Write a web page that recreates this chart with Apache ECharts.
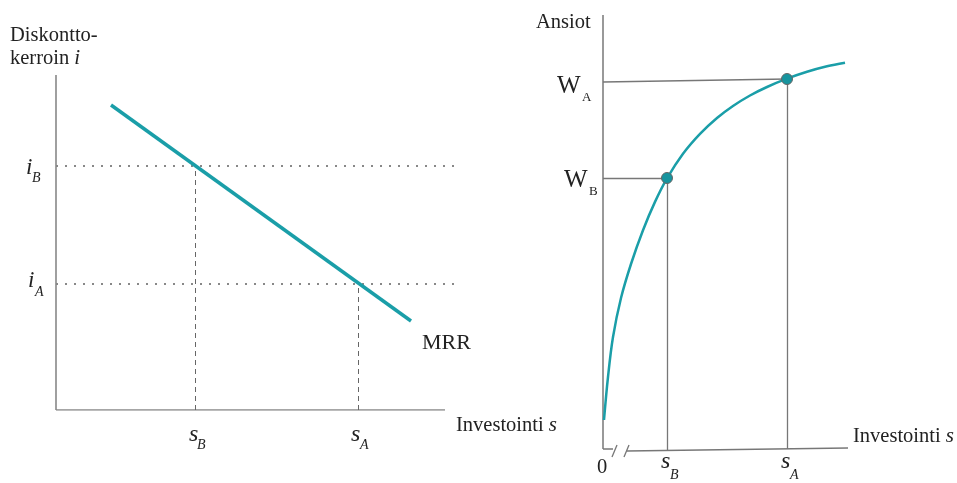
<!DOCTYPE html>
<html><head><meta charset="utf-8">
<script src="https://cdn.jsdelivr.net/npm/echarts@6/dist/echarts.min.js"></script>
<style>html,body{margin:0;padding:0;background:#fff}#c{width:957px;height:483px}</style>
</head><body><div id="c"></div>
<script>
// ---------- Left panel: discount rate vs investment (MRR) ----------
const leftAxisSegments = [[[0,0],[389,0]], [[0,0],[0,335]]];
const mrrLine = [[55,305],[355,89]];
const discountLevels = [244,126];      // i_B, i_A
const investLevels = [139,302];        // s_B, s_A
const dottedEnd = 399;

// ---------- Right panel: earnings curve ----------
const rightAxisSegments = [[[0,0],[0,434]], [[0,0],[10,0]], [[24,-2],[245,1]]];
const breakMarks = [[[9,-8],[14,4]], [[21,-8],[26,4]]];
const curveX = [1,5,10,18,28,40,52,64,80,97,114,130,147,164,184,204,224,242];
const curveY = [29,72,112,151,185,218.8,247.1,270.6,295.2,315.1,331,343,353.5,362,370.3,377.2,382.7,386.2];
const earningsPoints = [[64,271],[184,370]];   // (s_B, W_B), (s_A, W_A)
const wLevelsLeftY = [271,367];
const sBottomY = [-1,0];

const SERIF = "'Liberation Serif','DejaVu Serif',serif";
const TXT = '#222';
const TEAL = '#1a9ea8';

function seg(a){ return a.map(c=>({coords:c})); }

const earningsCurve = curveX.map((x,k)=>[x,curveY[k]]);
const leftDotted = discountLevels.map(y=>[[0,y],[dottedEnd,y]]);
const leftDashed = investLevels.map((x,k)=>[[x,0],[x,discountLevels[k]]]);
const rightHoriz = earningsPoints.map((p,k)=>[[0,wLevelsLeftY[k]],p]);
const rightVert = earningsPoints.map((p,k)=>[[p[0],sBottomY[k]],p]);

function t(x,y,text,size,italic){
  return {type:'text',left:x,top:y,style:{text:text,fontFamily:SERIF,fontSize:size,fontStyle:italic?'italic':'normal',fill:TXT}};
}
const richDef = {
  r:{fontFamily:SERIF,fontSize:20.5,color:TXT},
  it:{fontFamily:SERIF,fontSize:21,fontStyle:'italic',color:TXT}
};
function rt(x,y,text,lh){
  return {type:'text',left:x,top:y,style:{text:text,rich:richDef,fontFamily:SERIF,fontSize:20.5,fill:TXT,lineHeight:lh||23}};
}

const chart = echarts.init(document.getElementById('c'),null,{renderer:'canvas'});
chart.setOption({
  animation:false,
  backgroundColor:'#fff',
  grid:[
    {left:56,top:40,width:420,height:370},
    {left:603,top:15,width:250,height:449}
  ],
  xAxis:[
    {gridIndex:0,type:'value',min:0,max:420,show:false},
    {gridIndex:1,type:'value',min:0,max:250,show:false}
  ],
  yAxis:[
    {gridIndex:0,type:'value',min:0,max:370,show:false},
    {gridIndex:1,type:'value',min:-15,max:434,show:false}
  ],
  series:[
    {type:'lines',coordinateSystem:'cartesian2d',xAxisIndex:0,yAxisIndex:0,data:seg(leftAxisSegments),lineStyle:{color:'#888',width:1.6,opacity:1}},
    {type:'lines',coordinateSystem:'cartesian2d',xAxisIndex:0,yAxisIndex:0,data:seg(leftDotted),lineStyle:{color:'#888',width:2,type:[2,7],opacity:1}},
    {type:'lines',coordinateSystem:'cartesian2d',xAxisIndex:0,yAxisIndex:0,data:seg(leftDashed),lineStyle:{color:'#666',width:1,type:[5,4],opacity:1}},
    {type:'line',xAxisIndex:0,yAxisIndex:0,data:mrrLine,showSymbol:false,lineStyle:{color:TEAL,width:3.5}},
    {type:'lines',coordinateSystem:'cartesian2d',xAxisIndex:1,yAxisIndex:1,data:seg(rightAxisSegments),lineStyle:{color:'#777',width:1.5,opacity:1}},
    {type:'lines',coordinateSystem:'cartesian2d',xAxisIndex:1,yAxisIndex:1,data:seg(breakMarks),lineStyle:{color:'#777',width:1.3,opacity:1}},
    {type:'lines',coordinateSystem:'cartesian2d',xAxisIndex:1,yAxisIndex:1,data:seg(rightHoriz.concat(rightVert)),lineStyle:{color:'#777',width:1.3,opacity:1}},
    {type:'line',xAxisIndex:1,yAxisIndex:1,data:earningsCurve,smooth:0.35,showSymbol:false,lineStyle:{color:TEAL,width:2.5}},
    {type:'scatter',xAxisIndex:1,yAxisIndex:1,data:earningsPoints,symbolSize:11,itemStyle:{color:'#16949e',borderColor:'#666',borderWidth:1,opacity:1},z:5}
  ],
  graphic:[
    rt(10,24,'{r|Diskontto-}\n{r|kerroin }{it|i}'),
    t(26,156,'i',23,true), t(32,171.5,'B',14,true),
    t(28,269,'i',23,true), t(35,285.5,'A',14,true),
    t(189,423,'s',24,true), t(197,438.5,'B',14,true),
    t(351,423,'s',24,true), t(360,438.5,'A',14,true),
    rt(456,414,'{r|Investointi }{it|s}'),
    t(422,332,'MRR',22,false),
    t(536,12,'Ansiot',20.5,false),
    t(557,73.5,'W',25,false), t(582,91.3,'A',13,false),
    t(564,167.5,'W',25,false), t(589,185.3,'B',13,false),
    t(597,457,'0',20.5,false),
    t(661,450,'s',24,true), t(670,468,'B',14,true),
    t(781,450,'s',24,true), t(790,468,'A',14,true),
    rt(853,425,'{r|Investointi }{it|s}')
  ]
});
</script></body></html>
